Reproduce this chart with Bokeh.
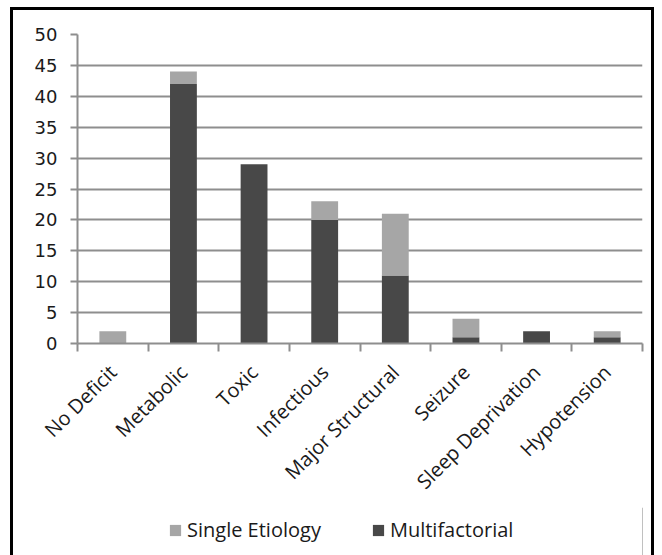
from math import pi
from bokeh.plotting import figure
from bokeh.layouts import column
from bokeh.models import (ColumnDataSource, Range1d, LinearAxis,
                          FixedTicker, Legend, LegendItem)
from bokeh.embed import file_html
from bokeh.resources import INLINE

categories = ["No Deficit", "Metabolic", "Toxic", "Infectious",
              "Major Structural", "Seizure", "Sleep Deprivation", "Hypotension"]
multifactorial = [0, 42, 29, 20, 11, 1, 2, 1]
single_etiology = [2, 2, 0, 3, 10, 3, 0, 1]
series_labels = ["Single Etiology", "Multifactorial"]
y_ticks = [0, 5, 10, 15, 20, 25, 30, 35, 40, 45, 50]

n = len(categories)
x_pos = [i + 0.5 for i in range(n)]          # category centres
boundary_ticks = list(range(n + 1))          # category boundaries

DARK = "#484848"
LIGHT = "#a6a6a6"
GRID = "#8e8e8e"
TEXT = "#1a1a1a"

src = ColumnDataSource(dict(x=x_pos, cat=categories, multi=multifactorial,
                            single=single_etiology))

# ---------------- main chart ----------------
p = figure(x_range=Range1d(0, n), y_range=Range1d(0, 50),
           width=644, height=500, output_backend="svg", toolbar_location=None,
           x_axis_location=None,
           min_border_left=64, min_border_right=15, min_border_top=24,
           min_border_bottom=167)
p.styles = {"margin-left": "10px", "margin-top": "7px",
            "border-left": "3px solid black", "border-top": "3px solid black",
            "border-right": "3px solid black"}
p.outline_line_color = None
p.background_fill_color = "white"
p.border_fill_color = "white"

yax = p.yaxis[0]
yax.ticker = FixedTicker(ticks=y_ticks)
yax.axis_line_color = GRID
yax.axis_line_width = 2
yax.major_tick_line_color = GRID
yax.major_tick_line_width = 2
yax.major_tick_out = 7
yax.major_tick_in = 0
yax.minor_tick_line_color = None
yax.major_label_text_font = "DejaVu Sans"
yax.major_label_text_font_size = "18px"
yax.major_label_text_color = TEXT
yax.major_label_standoff = 13

p.ygrid.ticker = FixedTicker(ticks=y_ticks)
p.ygrid.grid_line_color = GRID
p.ygrid.grid_line_width = 2
p.xgrid.visible = False

rs = p.vbar_stack(["multi", "single"], x="x", width=0.38, source=src,
                  color=[DARK, LIGHT], line_color=None)

xax = LinearAxis(ticker=FixedTicker(ticks=x_pos, minor_ticks=boundary_ticks),
                 major_label_overrides={x: c for x, c in zip(x_pos, categories)})
xax.axis_line_color = GRID
xax.axis_line_width = 2
xax.major_tick_line_color = None
xax.major_tick_out = 0
xax.major_tick_in = 0
xax.minor_tick_line_color = GRID
xax.minor_tick_line_width = 2
xax.minor_tick_out = 8
xax.minor_tick_in = 0
xax.major_label_orientation = pi / 4
xax.major_label_text_font = "Open Sans"
xax.major_label_text_font_size = "20px"
xax.major_label_text_color = TEXT
xax.major_label_standoff = 17
p.add_layout(xax, "below")

# ---------------- legend strip ----------------
p2 = figure(x_range=Range1d(0, 1), y_range=Range1d(0, 1),
            width=644, height=50, output_backend="svg", toolbar_location=None,
            x_axis_location=None, y_axis_location=None,
            min_border_left=64, min_border_right=15,
            min_border_top=0, min_border_bottom=0)
p2.styles = {"margin-left": "10px",
             "border-left": "3px solid black",
             "border-right": "3px solid black"}
p2.outline_line_color = None
p2.background_fill_color = "white"
p2.border_fill_color = "white"
p2.xgrid.visible = False
p2.ygrid.visible = False
# legend keys (kept outside the strip's visible range; only their swatches show)
key_src = ColumnDataSource(dict(x=[5], top=[1]))
k_single = p2.vbar(x="x", top="top", width=0.1, source=key_src,
                   color=LIGHT, line_color=None)
k_multi = p2.vbar(x="x", top="top", width=0.1, source=key_src,
                  color=DARK, line_color=None)
legend = Legend(items=[LegendItem(label=series_labels[0], renderers=[k_single]),
                       LegendItem(label=series_labels[1], renderers=[k_multi])],
                orientation="horizontal", location=(91, 14),
                label_text_font="Open Sans", label_text_font_size="20px",
                label_text_color=TEXT,
                glyph_width=14, glyph_height=14, label_standoff=5, spacing=50,
                border_line_color=None, background_fill_alpha=0, padding=0,
                margin=0)
p2.add_layout(legend, "center")

layout = column(p, p2, spacing=0)
open("out.html", "w").write(file_html(layout, INLINE))
